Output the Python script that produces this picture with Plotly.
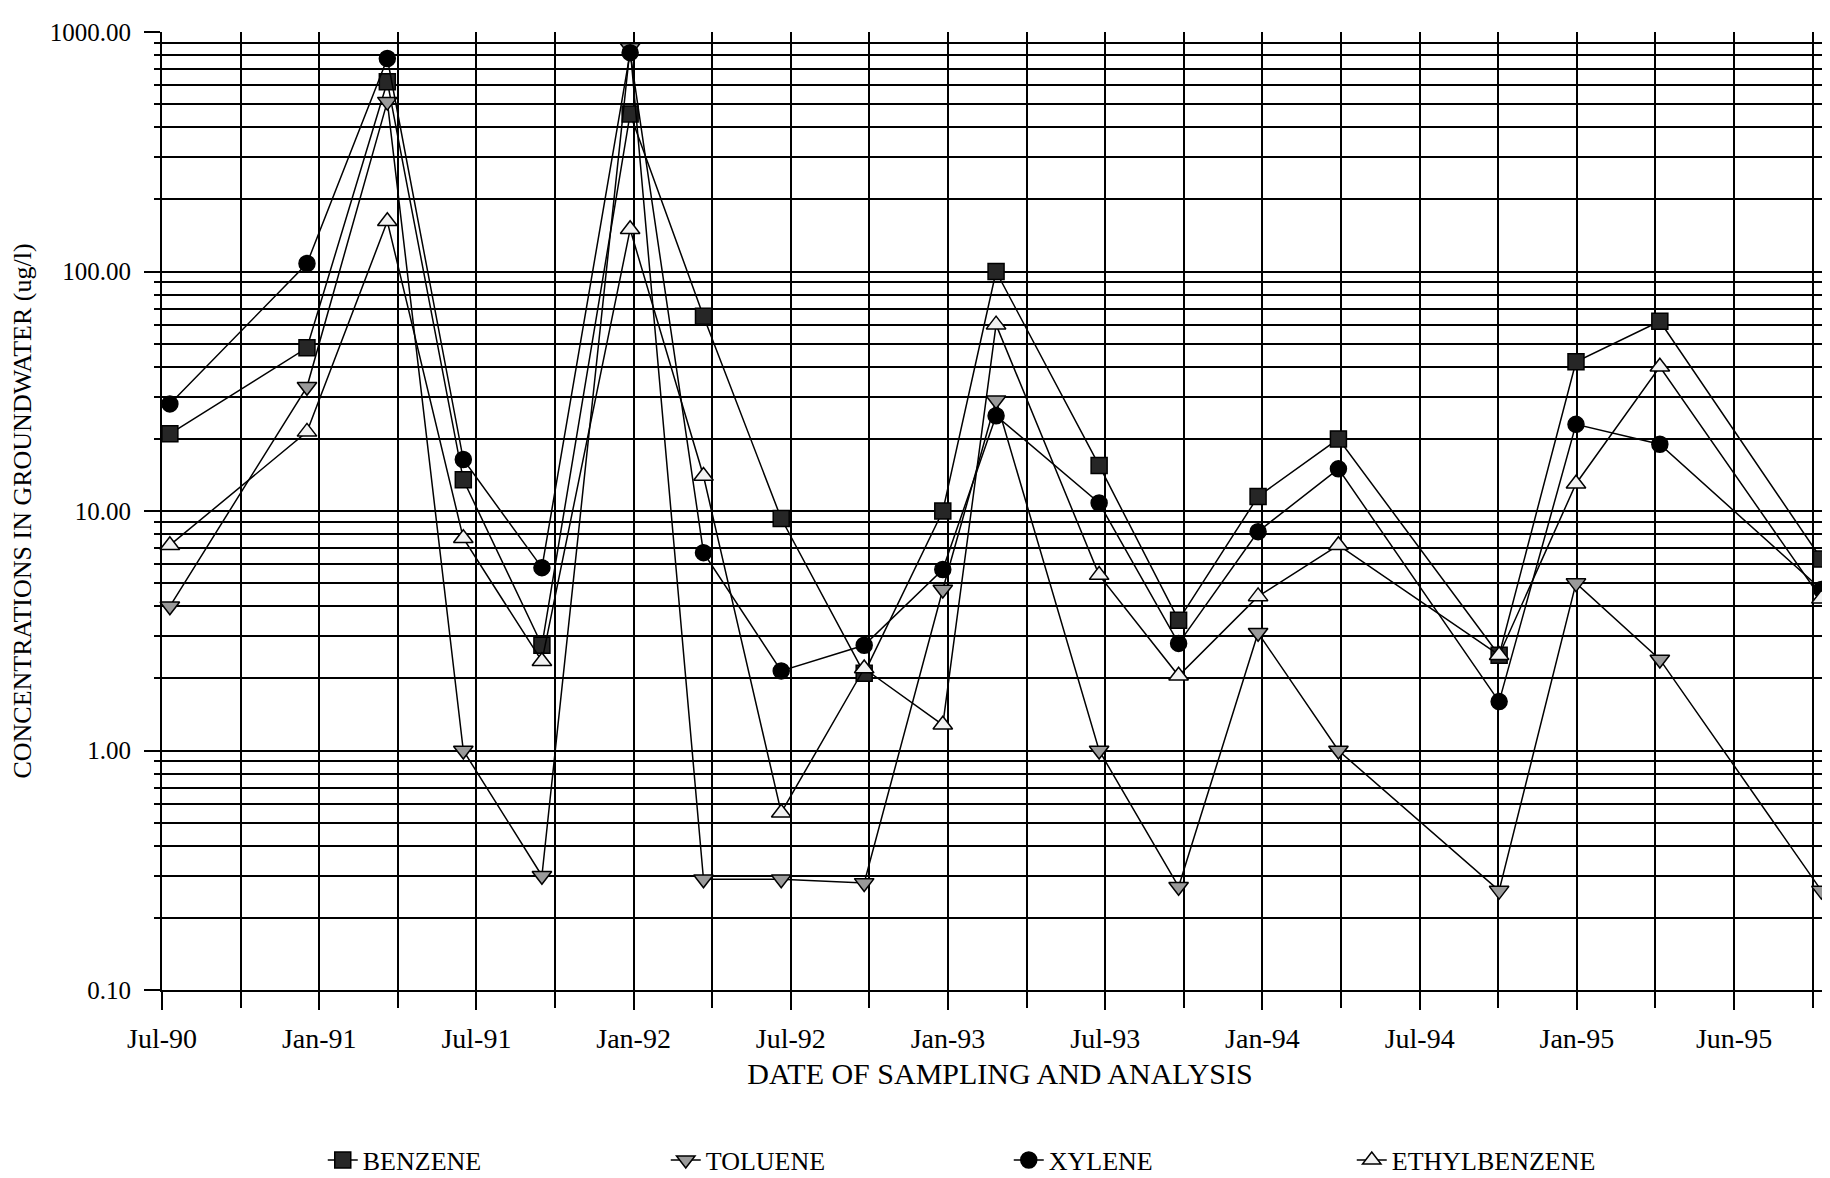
import plotly.graph_objects as go
import pandas as pd

# ---- data ----
sample_dates = [
    "1990-07-10", "1990-12-14", "1991-03-16", "1991-06-11", "1991-09-09",
    "1991-12-19", "1992-03-12", "1992-06-09", "1992-09-12", "1992-12-11",
    "1993-02-10", "1993-06-08", "1993-09-07", "1993-12-07", "1994-03-09",
    "1994-09-09", "1994-12-06", "1995-03-12", "1995-09-13",
]
benzene = [21, 48, 620, 13.5, 2.75, 455, 65, 9.3, 2.1, 10.0,
           100, 15.5, 3.5, 11.5, 20, 2.5, 42, 62, 6.3]
toluene = [4.0, 33, 512, 1.0, 0.30, 860, 0.29, 0.29, 0.28, 4.7,
           29, 1.0, 0.27, 3.1, 1.0, 0.26, 5.0, 2.4, 0.26]
xylene = [28, 108, 775, 16.4, 5.8, 820, 6.7, 2.15, 2.75, 5.7,
          25, 10.8, 2.8, 8.2, 15, 1.6, 23, 19, 4.7]
ethylbenzene = [7.2, 21.4, 162, 7.7, 2.36, 150, 14, 0.55, 2.2, 1.28,
                60, 5.4, 2.05, 4.4, 7.2, 2.5, 13, 40, 4.3]

x_tick_labels = ["Jul-90", "Jan-91", "Jul-91", "Jan-92", "Jul-92", "Jan-93",
                 "Jul-93", "Jan-94", "Jul-94", "Jan-95", "Jun-95"]
x_tick_start = "1990-07-01"
x_range = ["1990-07-01", "1995-10-02"]

y_tick_vals = [0.1, 1, 10, 100, 1000]
y_tick_labels = ["0.10", "1.00", "10.00", "100.00", "1000.00"]

# ---- figure ----
FONT = "Liberation Serif"
x_tick_vals = pd.date_range(x_tick_start, periods=len(x_tick_labels), freq="180D")
y_minor_vals = [m * 10 ** e for e in range(-1, 3) for m in range(2, 10)]

series = [
    ("BENZENE", benzene, "square", "#262626", 16),
    ("TOLUENE", toluene, "triangle-down", "#9a9a9a", 17),
    ("XYLENE", xylene, "circle", "black", 16),
    ("ETHYLBENZENE", ethylbenzene, "triangle-up", "#f2f2f2", 17),
]

fig = go.Figure()
for name, vals, sym, fill, size in series:
    fig.add_trace(go.Scatter(
        x=sample_dates, y=vals, name=name, mode="lines+markers",
        line=dict(color="black", width=1.5),
        marker=dict(symbol=sym, size=size, color=fill,
                    line=dict(color="black", width=1.5)),
        cliponaxis=False,
    ))

fig.update_layout(
    width=1830, height=1178,
    margin=dict(l=154, r=0, t=24, b=196),
    paper_bgcolor="white", plot_bgcolor="white",
    font=dict(family=FONT, color="black"),
    showlegend=True,
    legend=dict(
        orientation="h", xref="container", yref="container",
        x=0.172, y=0.022, xanchor="left", yanchor="middle",
        font=dict(family=FONT, size=26, color="black"),
        entrywidth=298, entrywidthmode="pixels",
        itemsizing="trace", traceorder="normal",
    ),
)

fig.update_xaxes(
    type="date", range=x_range,
    tickmode="array", tickvals=x_tick_vals, ticktext=x_tick_labels,
    tickfont=dict(family=FONT, size=28, color="black"),
    ticks="outside", ticklen=18, tickwidth=2, tickcolor="black",
    ticklabelstandoff=4,
    showgrid=True, gridcolor="black", gridwidth=2,
    showline=True, linecolor="black", linewidth=2,
    zeroline=False,
    minor=dict(tickmode="linear", tick0=x_tick_start, dtick=90 * 86400000,
               showgrid=True, gridcolor="black", gridwidth=2,
               ticks="outside", ticklen=16, tickwidth=2, tickcolor="black"),
    title=dict(text="DATE OF SAMPLING AND ANALYSIS",
               font=dict(family=FONT, size=30, color="black"), standoff=10),
)

fig.update_yaxes(
    type="log", range=[-1, 3],
    tickmode="array", tickvals=y_tick_vals, ticktext=y_tick_labels,
    tickfont=dict(family=FONT, size=25, color="black"),
    ticks="outside", ticklen=16, tickwidth=2, tickcolor="black",
    ticklabelstandoff=8,
    showgrid=True, gridcolor="black", gridwidth=2,
    showline=True, linecolor="black", linewidth=2,
    zeroline=False,
    minor=dict(tickmode="array", tickvals=y_minor_vals,
               showgrid=True, gridcolor="black", gridwidth=1.6,
               ticks="outside", ticklen=6, tickwidth=1.6, tickcolor="black"),
    title=dict(text="CONCENTRATIONS IN GROUNDWATER (ug/l)",
               font=dict(family=FONT, size=26, color="black"), standoff=14),
)

fig.write_html("out.html")
